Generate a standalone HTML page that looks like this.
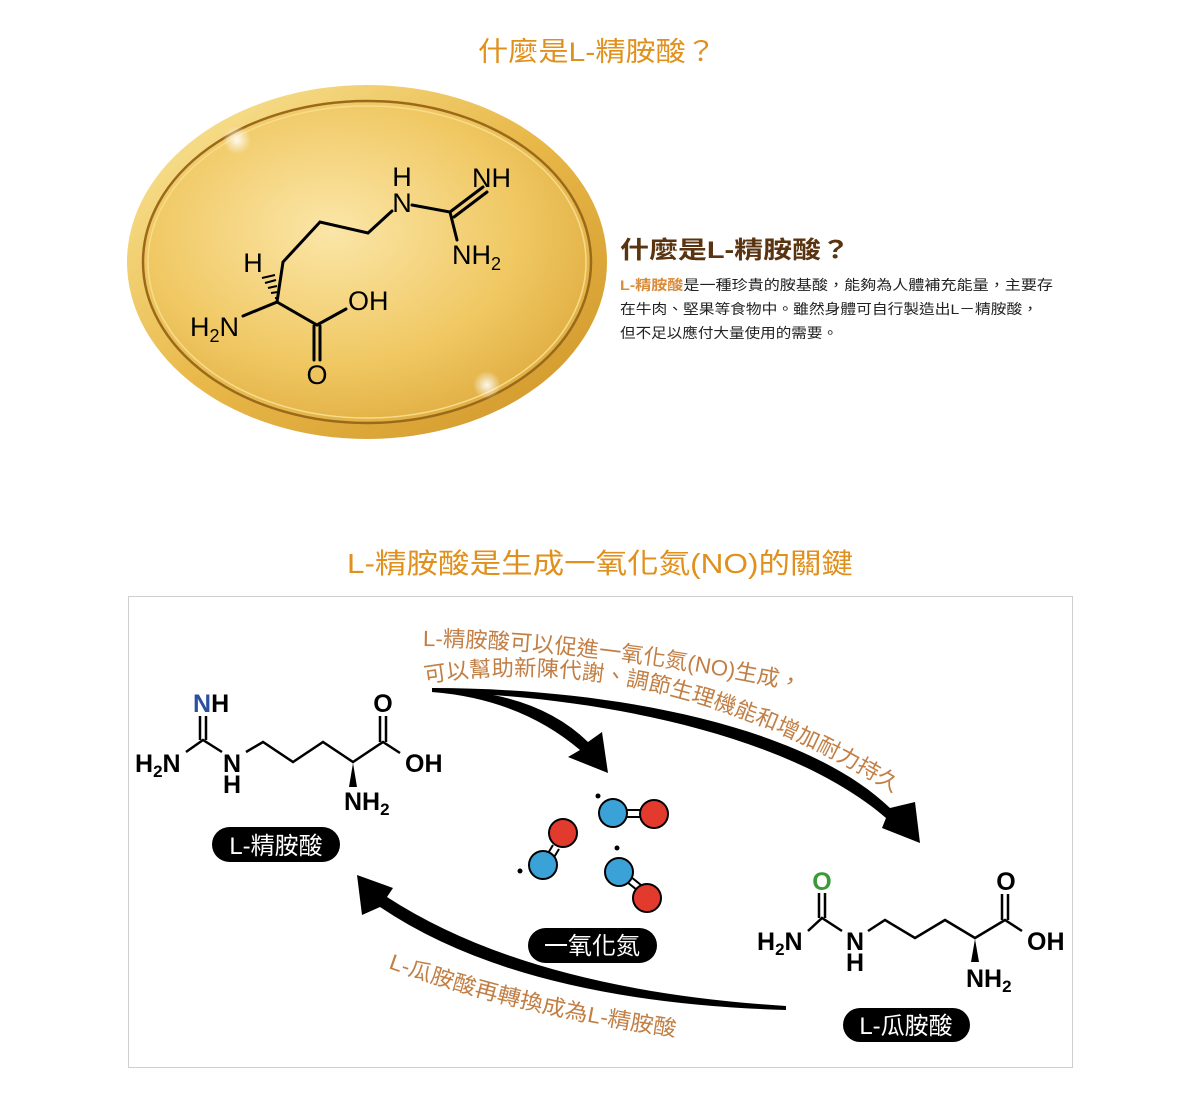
<!DOCTYPE html>
<html><head><meta charset="utf-8"><style>
html,body{margin:0;padding:0;background:#fff;}
svg{display:block;}
.cj{font-family:"Liberation Sans","Noto Sans CJK TC",sans-serif;}
.at{font-family:"Liberation Sans",sans-serif;font-size:27px;fill:#000;}
.ab{font-family:"Liberation Sans",sans-serif;font-size:25px;font-weight:bold;fill:#000;}
</style></head><body>
<svg width="1200" height="1119" viewBox="0 0 1200 1119" xmlns="http://www.w3.org/2000/svg">
<defs>
<radialGradient id="g1" cx="0.42" cy="0.4" r="0.75">
<stop offset="0" stop-color="#fbe6a8"/><stop offset="0.55" stop-color="#f0c863"/><stop offset="1" stop-color="#d9a233"/>
</radialGradient>
<linearGradient id="g2" x1="0" y1="0" x2="1" y2="1">
<stop offset="0" stop-color="#fbe9a0"/><stop offset="0.5" stop-color="#e8b848"/><stop offset="1" stop-color="#cf9428"/>
</linearGradient>
<radialGradient id="sp"><stop offset="0" stop-color="#fff" stop-opacity="0.9"/><stop offset="1" stop-color="#fff" stop-opacity="0"/></radialGradient>
<path id="p1" d="M423,646 Q600,648 808,693"/>
<path id="p2" d="M425,683 Q660,645 905,800"/>
<path id="p3" d="M388,968 Q520,1015 680,1037"/>
</defs>

<text x="597" y="61" text-anchor="middle" class="cj" font-size="27" fill="#e0901c" textLength="238" lengthAdjust="spacingAndGlyphs">什麼是L-精胺酸？</text>

<ellipse cx="367" cy="262" rx="240" ry="177" fill="url(#g2)"/>
<ellipse cx="367" cy="262" rx="224" ry="161" fill="url(#g1)" stroke="#9a6a1a" stroke-width="2.5"/>
<ellipse cx="367" cy="262" rx="219" ry="156" fill="none" stroke="#f7dc8a" stroke-width="1.5"/>
<circle cx="237" cy="140" r="14" fill="url(#sp)"/>
<circle cx="487" cy="385" r="14" fill="url(#sp)"/>

<g stroke="#000" stroke-width="3" fill="none" stroke-linecap="round">
<path d="M243,316 L277,302 L283,262 L320,222 L368,233 L392,211"/>
<path d="M412,205 L450,212 L457,240"/>
<path d="M450,212 L483,187 M454,217 L487,192"/>
<path d="M277,302 L317,325 L346,309"/>
<path d="M314,326 L314,360 M320,326 L320,360"/>
</g>
<g stroke="#000" stroke-width="2">
<path d="M275,298 L279,298 M271,293 L278,292 M268,288 L277,286 M265,283 L276,280 M262,278 L275,275"/>
</g>
<text x="402" y="186" text-anchor="middle" class="at">H</text>
<text x="402" y="212" text-anchor="middle" class="at">N</text>
<text x="472" y="187" class="at">NH</text>
<text x="452" y="264" class="at">NH<tspan font-size="18" dy="6">2</tspan></text>
<text x="253" y="272" text-anchor="middle" class="at">H</text>
<text x="190" y="336" class="at">H<tspan font-size="18" dy="6">2</tspan><tspan dy="-6">N</tspan></text>
<text x="348" y="310" class="at">OH</text>
<text x="317" y="384" text-anchor="middle" class="at">O</text>

<text x="620" y="258" class="cj" font-size="24" font-weight="bold" fill="#5a3311" textLength="230" lengthAdjust="spacingAndGlyphs">什麼是L-精胺酸？</text>
<g class="cj" font-size="14" fill="#222">
<text x="620" y="290" textLength="433" lengthAdjust="spacingAndGlyphs"><tspan fill="#d98a3a" font-weight="bold">L-精胺酸</tspan>是一種珍貴的胺基酸，能夠為人體補充能量，主要存</text>
<text x="620" y="314" textLength="418" lengthAdjust="spacingAndGlyphs">在牛肉、堅果等食物中。雖然身體可自行製造出L－精胺酸，</text>
<text x="620" y="338" textLength="218" lengthAdjust="spacingAndGlyphs">但不足以應付大量使用的需要。</text>
</g>

<text x="600" y="573" text-anchor="middle" class="cj" font-size="28" fill="#e0901c" textLength="506" lengthAdjust="spacingAndGlyphs">L-精胺酸是生成一氧化氮(NO)的關鍵</text>

<rect x="128.5" y="596.5" width="944" height="471" fill="#fff" stroke="#cfcfcf" stroke-width="1"/>

<g class="cj" font-size="22" fill="#c27f45">
<text><textPath href="#p1" textLength="380" lengthAdjust="spacingAndGlyphs">L-精胺酸可以促進一氧化氮(NO)生成，</textPath></text>
<text><textPath href="#p2" textLength="492" lengthAdjust="spacingAndGlyphs">可以幫助新陳代謝、調節生理機能和增加耐力持久</textPath></text>
<text><textPath href="#p3" textLength="296" lengthAdjust="spacingAndGlyphs">L-瓜胺酸再轉換成為L-精胺酸</textPath></text>
</g>

<path d="M432,688 C600,688 800,722 890,808 L915,802 L920,843 L882,828 L886,818 C790,735 600,696 432,692 Z" fill="#000"/>
<path d="M432,689 Q535,690 588,742 L602,732 L608,773 L568,757 L580,750 Q520,699 432,692 Z" fill="#000"/>
<path d="M786,1010 Q520,1002 380,907 L362,915 L357,875 L393,888 L387,897 Q530,990 786,1006 Z" fill="#000"/>

<g stroke="#000" stroke-width="2.5" fill="none">
<path d="M200,716 L200,740 M206,716 L206,740"/>
<path d="M186,752 L203,740 L222,752"/>
<path d="M246,752 L263,742 L293,762 L323,742 L353,762 L383,742 L400,753"/>
<path d="M380,716 L380,742 M386,716 L386,742"/>
</g>
<path d="M353,763 L349,787 L357,787 Z" fill="#000"/>
<text x="193" y="712" class="ab"><tspan fill="#2c4fa0">N</tspan>H</text>
<text x="135" y="772" class="ab">H<tspan font-size="17" dy="5">2</tspan><tspan dy="-5">N</tspan></text>
<text x="232" y="772" text-anchor="middle" class="ab">N</text>
<text x="232" y="793" text-anchor="middle" class="ab">H</text>
<text x="383" y="712" text-anchor="middle" class="ab">O</text>
<text x="405" y="772" class="ab">OH</text>
<text x="344" y="810" class="ab">NH<tspan font-size="17" dy="5">2</tspan></text>
<rect x="212" y="827" width="128" height="35" rx="17.5" fill="#000"/>
<text x="276" y="854" text-anchor="middle" class="cj" font-size="24" fill="#fff">L-精胺酸</text>

<g stroke="#000" stroke-width="2.5" fill="none">
<path d="M819,893 L819,918 M825,893 L825,918"/>
<path d="M808,931 L822,918 L842,931"/>
<path d="M868,931 L885,920 L915,938 L945,920 L975,938 L1005,920 L1022,931"/>
<path d="M1002,894 L1002,920 M1008,894 L1008,920"/>
</g>
<path d="M975,939 L971,962 L979,962 Z" fill="#000"/>
<text x="822" y="890" text-anchor="middle" class="ab" style="fill:#3a9a3a">O</text>
<text x="757" y="950" class="ab">H<tspan font-size="17" dy="5">2</tspan><tspan dy="-5">N</tspan></text>
<text x="855" y="950" text-anchor="middle" class="ab">N</text>
<text x="855" y="971" text-anchor="middle" class="ab">H</text>
<text x="1006" y="890" text-anchor="middle" class="ab">O</text>
<text x="1027" y="950" class="ab">OH</text>
<text x="966" y="987" class="ab">NH<tspan font-size="17" dy="5">2</tspan></text>
<rect x="843" y="1008" width="127" height="34" rx="17" fill="#000"/>
<text x="906" y="1034" text-anchor="middle" class="cj" font-size="24" fill="#fff">L-瓜胺酸</text>

<g stroke="#000" stroke-width="2">
<path d="M626,810 L642,810 M626,817 L642,817"/>
<path d="M553,845 L547,855 M559,849 L553,859" />
<path d="M627,882 L637,890 M631,877 L641,885"/>
</g>
<g stroke="#000" stroke-width="2">
<circle cx="613" cy="813" r="14" fill="#3ba2d8"/>
<circle cx="654" cy="814" r="14" fill="#e23b2e"/>
<circle cx="563" cy="833" r="14" fill="#e23b2e"/>
<circle cx="543" cy="865" r="14" fill="#3ba2d8"/>
<circle cx="619" cy="872" r="14" fill="#3ba2d8"/>
<circle cx="647" cy="898" r="14" fill="#e23b2e"/>
</g>
<circle cx="598" cy="796" r="2.5" fill="#000"/>
<circle cx="520" cy="871" r="2.5" fill="#000"/>
<circle cx="617" cy="848" r="2.5" fill="#000"/>
<rect x="528" y="928" width="129" height="35" rx="17.5" fill="#000"/>
<text x="592" y="954" text-anchor="middle" class="cj" font-size="24" fill="#fff">一氧化氮</text>
</svg>
</body></html>
